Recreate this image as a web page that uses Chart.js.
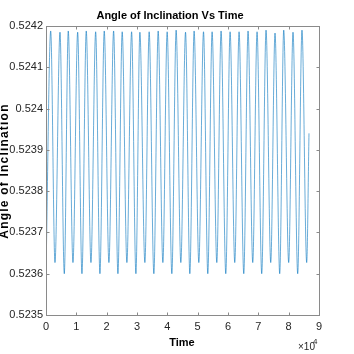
<!DOCTYPE html>
<html>
<head>
<meta charset="utf-8">
<script src="https://cdn.jsdelivr.net/npm/chart.js@4.4.0/dist/chart.umd.min.js"></script>
<style>
    html, body { margin: 0; padding: 0; background: #fff; }
    canvas { display: block; }
</style>
</head>
<body>
<canvas id="angle_chart" width="354" height="354"></canvas>
<script>
// time (s) and angle readings
var timeVals = [0, 1550, 2960, 4610, 6030, 7340, 8890, 10440, 11850, 13270, 14820, 16370, 17780, 19200, 20740,
    22290, 23710, 25120, 26670, 28220, 29640, 30950, 32600, 34010, 35560, 36980, 38530, 39940, 41490, 42900,
    44450, 46000, 47420, 48830, 50380, 51930, 53340, 54760, 56310, 57720, 59270, 60690, 62230, 63650, 65200,
    66610, 68160, 69580, 71120, 72540, 74090, 75500, 77050, 78370, 80010, 81430, 82980, 84390, 85940, 86700];
var angleVals = [0.5236,
    0.524188, 0.523627, 0.524185, 0.5236, 0.524188, 0.523627, 0.524185, 0.5236, 0.524188, 0.523627,
    0.524186, 0.5236, 0.524188, 0.523627, 0.524188, 0.5236, 0.524186, 0.523627, 0.524186, 0.5236,
    0.524185, 0.523627, 0.524186, 0.5236, 0.524188, 0.523627, 0.524186, 0.5236, 0.52419, 0.523627,
    0.524185, 0.5236, 0.524188, 0.523627, 0.524186, 0.5236, 0.524186, 0.523627, 0.524188, 0.5236,
    0.524186, 0.523627, 0.524186, 0.5236, 0.524188, 0.523627, 0.524186, 0.5236, 0.52419, 0.523627,
    0.524183, 0.5236, 0.52419, 0.523627, 0.524185, 0.5236, 0.52419, 0.523627,
    0.52394];

var xTickVals = [0, 10000, 20000, 30000, 40000, 50000, 60000, 70000, 80000, 90000];
var xTickLabels = ['0', '1', '2', '3', '4', '5', '6', '7', '8', '9'];
var yTickVals = [0.5235, 0.5236, 0.5237, 0.5238, 0.5239, 0.524, 0.5241, 0.5242];
var yTickLabels = ['0.5235', '0.5236', '0.5237', '0.5238', '0.5239', '0.524', '0.5241', '0.5242'];

var points = [];
for (var i = 0; i < timeVals.length; i++) {
    points.push({ x: timeVals[i], y: angleVals[i] });
}

// box, inward ticks and the text around the axes
var matlabFrame = {
    id: 'matlabFrame',
    afterDraw: function (chart) {
        var ctx = chart.ctx;
        var a = chart.chartArea;
        var xs = chart.scales.x, ys = chart.scales.y;
        var l = Math.round(a.left) + 0.5, r = Math.round(a.right) + 0.5;
        var t = Math.round(a.top) + 0.5, b = Math.round(a.bottom) + 0.5;
        ctx.save();
        ctx.strokeStyle = '#8a8a8a';
        ctx.lineWidth = 1;
        ctx.strokeRect(l, t, r - l, b - t);
        ctx.beginPath();
        xTickVals.forEach(function (v) {
            var px = Math.round(xs.getPixelForValue(v)) + 0.5;
            ctx.moveTo(px, b); ctx.lineTo(px, b - 3);
            ctx.moveTo(px, t); ctx.lineTo(px, t + 3);
        });
        yTickVals.forEach(function (v) {
            var py = Math.round(ys.getPixelForValue(v)) + 0.5;
            ctx.moveTo(l, py); ctx.lineTo(l + 3, py);
            ctx.moveTo(r, py); ctx.lineTo(r - 3, py);
        });
        ctx.stroke();

        ctx.fillStyle = '#000';
        ctx.textAlign = 'center';
        ctx.textBaseline = 'alphabetic';
        ctx.font = 'bold 11px "Liberation Sans Narrow", "Liberation Sans", sans-serif';
        ctx.fillText('Angle of Inclination Vs Time', 170, 19);

        ctx.textBaseline = 'middle';
        ctx.fillText('Time', 182, 343);

        ctx.save();
        ctx.translate(5, 171);
        ctx.rotate(-Math.PI / 2);
        ctx.font = 'bold 12px "Liberation Sans", sans-serif';
        ctx.letterSpacing = '1.2px';
        ctx.fillText('Angle of Inclination', 0, 0);
        ctx.restore();

        ctx.fillStyle = '#262626';
        ctx.textAlign = 'left';
        ctx.textBaseline = 'alphabetic';
        ctx.font = '10px "Liberation Sans Narrow", "Liberation Sans", sans-serif';
        ctx.fillText('\u00d710', 298, 350);
        ctx.font = '8px "Liberation Sans Narrow", "Liberation Sans", sans-serif';
        ctx.fillText('4', 313, 344);
        ctx.restore();
    }
};

var tickFont = { family: '"Liberation Sans Narrow", "Liberation Sans", sans-serif', size: 11 };

var chart = new Chart(document.getElementById('angle_chart').getContext('2d'), {
    type: 'line',
    data: {
        datasets: [{
            label: 'Angle of Inclination',
            data: points,
            borderColor: 'rgba(0, 114, 189, 0.85)',
            borderWidth: 0.7,
            pointRadius: 0,
            fill: false,
            cubicInterpolationMode: 'monotone'
        }]
    },
    options: {
        responsive: false,
        animation: false,
        devicePixelRatio: 1,
        layout: { padding: { top: 26, right: 35, bottom: 0, left: 0 } },
        plugins: { legend: { display: false }, tooltip: { enabled: false } },
        scales: {
            x: {
                type: 'linear',
                min: 0,
                max: 90000,
                grid: { display: false, drawTicks: false },
                border: { display: false },
                afterBuildTicks: function (scale) {
                    scale.ticks = xTickVals.map(function (v) { return { value: v }; });
                },
                ticks: {
                    color: '#262626',
                    font: tickFont,
                    padding: 5,
                    maxRotation: 0,
                    callback: function (v, i) { return xTickLabels[i]; }
                },
                afterFit: function (scale) { scale.height = 39; }
            },
            y: {
                type: 'linear',
                min: 0.5235,
                max: 0.5242,
                grid: { display: false, drawTicks: false },
                border: { display: false },
                afterBuildTicks: function (scale) {
                    scale.ticks = yTickVals.map(function (v) { return { value: v }; });
                },
                ticks: {
                    color: '#262626',
                    font: tickFont,
                    padding: 3,
                    callback: function (v, i) { return yTickLabels[i]; }
                },
                afterFit: function (scale) { scale.width = 46; }
            }
        }
    },
    plugins: [matlabFrame]
});
</script>
</body>
</html>
